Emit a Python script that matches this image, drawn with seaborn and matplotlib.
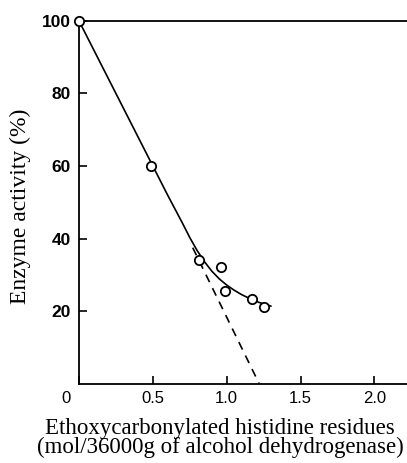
import pandas as pd
import matplotlib
matplotlib.use("Agg")
import matplotlib.pyplot as plt
import matplotlib.transforms as mtransforms
import seaborn as sns

sns.set_style("ticks", {"text.color": "black", "axes.labelcolor": "black",
                        "xtick.color": "black", "ytick.color": "black",
                        "axes.edgecolor": "black"})

# measured points
residues = [0.0, 0.49, 0.81, 0.96, 0.99, 1.17, 1.25]
activity = [100, 60, 34.2, 32.2, 25.6, 23.4, 21.2]

# smooth curve drawn through the data
curve_x = [0.0, 0.5, 0.6, 0.7, 0.75, 0.8, 0.85, 0.9, 0.95, 1.0, 1.05, 1.1, 1.15, 1.2, 1.25, 1.3]
curve_y = [100, 60, 52.0, 44.3, 40.3, 36.7, 33.6, 31.0, 28.9, 27.2, 25.8, 24.6, 23.6, 22.7, 22.0, 21.4]

# extrapolated initial slope (dashed)
dash_x = [0.77, 1.22]
dash_y = [37.5, 0]

fig = plt.figure(figsize=(4.07, 4.63), dpi=100)
ax = fig.add_axes([0.194, 0.171, 0.806, 0.784])

sns.lineplot(x=curve_x, y=curve_y, ax=ax, color="black", lw=1.2, sort=False)
sns.lineplot(x=dash_x, y=dash_y, ax=ax, color="black", lw=1.2, linestyle=(0, (5, 4)))
sns.scatterplot(x=residues, y=activity, ax=ax, s=45, facecolor="white",
                edgecolor="black", linewidth=1.3, zorder=5, clip_on=False)

ax.set_xlim(0, 2.22)
ax.set_ylim(0, 100)
ax.set_xticks([0, 0.5, 1.0, 1.5, 2.0])
ax.set_xticklabels(["0", "0.5", "1.0", "1.5", "2.0"], fontsize=12,
                   family="Liberation Sans")
ax.set_yticks([20, 40, 60, 80, 100])
ax.set_yticklabels(["20", "40", "60", "80", "100"], fontsize=12.5,
                   fontweight="bold", family="Liberation Sans")
ax.tick_params(direction="in", length=6, width=1.2, pad=6)
ax.tick_params(axis="x", pad=5)

# the "0" sits a little left of the corner
lbl0 = ax.xaxis.get_majorticklabels()[0]
lbl0.set_transform(lbl0.get_transform() + mtransforms.ScaledTranslation(-0.13, 0, fig.dpi_scale_trans))

ax.spines["right"].set_visible(False)
for s in ["left", "bottom", "top"]:
    ax.spines[s].set_linewidth(1.3)

ax.set_xlabel("Ethoxycarbonylated histidine residues\n(mol/36000g of alcohol dehydrogenase)",
              family="Liberation Serif", fontsize=16.5, linespacing=0.82)
ax.set_ylabel("Enzyme activity (%)", family="Liberation Serif", fontsize=17)
ax.xaxis.set_label_coords(0.43, -0.095)
ax.yaxis.set_label_coords(-0.145, 0.488)

fig.savefig("out.png", dpi=100)
